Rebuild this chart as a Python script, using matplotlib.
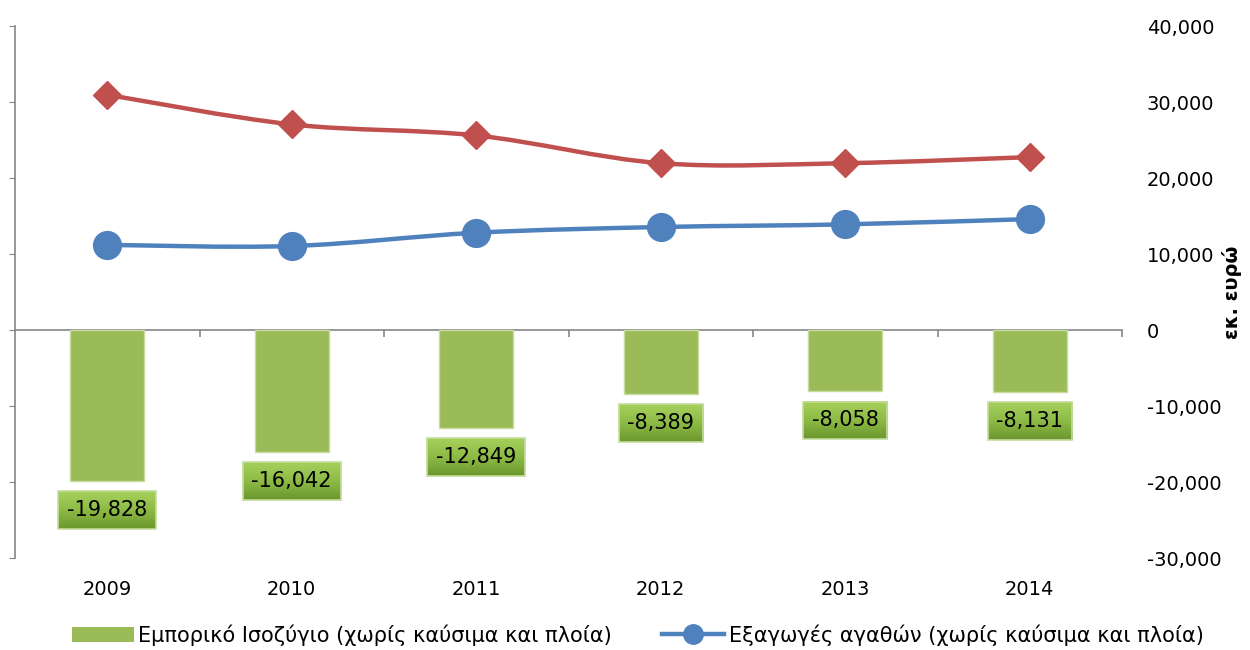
import matplotlib
matplotlib.use('Agg')
import matplotlib.pyplot as plt
import numpy as np
from matplotlib.path import Path
from matplotlib.patches import PathPatch, Patch
from matplotlib.lines import Line2D
from matplotlib.colors import LinearSegmentedColormap
from matplotlib.ticker import FuncFormatter

years = ['2009', '2010', '2011', '2012', '2013', '2014']
balance = [-19828, -16042, -12849, -8389, -8058, -8131]
exports = [11200, 11050, 12800, 13550, 13900, 14600]
imports = [30950, 27050, 25600, 21950, 21950, 22750]

balance_name = 'Εμπορικό Ισοζύγιο (χωρίς καύσιμα και πλοία)'
exports_name = 'Εξαγωγές αγαθών (χωρίς καύσιμα και πλοία)'
unit_label = 'εκ. ευρώ'

green = '#9BBB59'
red = '#C0504D'
blue = '#4F81BD'
grey = '#868686'

plt.rcParams['font.family'] = ['DejaVu Sans']
fontsize = 14


def smooth_path(x, y):
    # Catmull-Rom style curve through the points, as cubic Bezier segments
    pts = np.column_stack([x, y]).astype(float)
    n = len(pts)
    verts = [pts[0]]
    codes = [Path.MOVETO]
    for i in range(n - 1):
        p0 = pts[i - 1] if i > 0 else pts[i]
        p1 = pts[i]
        p2 = pts[i + 1]
        p3 = pts[i + 2] if i + 2 < n else pts[i + 1]
        verts += [p1 + (p2 - p0) / 6, p2 - (p3 - p1) / 6, p2]
        codes += [Path.CURVE4] * 3
    return Path(verts, codes)


fig = plt.figure(figsize=(12.5, 6.5), dpi=100)
ax = fig.add_axes([0.012, 0.1415, 0.8856, 0.8185])
x = np.arange(len(years))

ax.bar(x, balance, width=0.4, color=green, edgecolor='#C8DCA0', linewidth=1, zorder=2)

for vals, col, mk, ms in [(imports, red, 'D', 14), (exports, blue, 'o', 20)]:
    ax.add_patch(PathPatch(smooth_path(x, vals), facecolor='none', edgecolor=col,
                           lw=3.2, capstyle='round', joinstyle='round', zorder=3))
    ax.plot(x, vals, ls='none', marker=mk, ms=ms, color=col, zorder=3.5)

labels = []
for xi, v in zip(x, balance):
    t = ax.annotate(f'{v:,}', xy=(xi, v), xytext=(0, -21), textcoords='offset points',
                    ha='center', va='center', fontsize=fontsize + 1, zorder=6,
                    bbox=dict(boxstyle='square,pad=0.42', facecolor='none',
                              edgecolor='#C4DD9C', linewidth=1.2))
    labels.append(t)

ax.set_xlim(-0.5, len(years) - 0.5)
ax.set_ylim(-30000, 40000)
ax.set_yticks(np.arange(-30000, 40001, 10000))
ax.yaxis.set_major_formatter(FuncFormatter(lambda v, p: f'{v:,.0f}'))
ax.tick_params(axis='y', left=True, right=False, labelleft=False, labelright=True,
               direction='out', length=4, color=grey, labelsize=fontsize, pad=14)
ax.yaxis.set_label_position('right')
ax.set_ylabel(unit_label, fontsize=fontsize, fontweight='bold', labelpad=0)

ax.set_xticks(x)
ax.set_xticklabels(years, fontsize=fontsize)
ax.tick_params(axis='x', length=0, pad=16)

for s in ['top', 'right', 'bottom']:
    ax.spines[s].set_visible(False)
ax.spines['left'].set_color(grey)
ax.spines['left'].set_linewidth(1.2)

# zero line with category separators
ylo, yhi = ax.get_ylim()
zero_ax = ax.secondary_xaxis((0 - ylo) / (yhi - ylo))
zero_ax.set_xticks(np.arange(0.5, len(years), 1.0))
zero_ax.tick_params(direction='out', length=5, color=grey, labelbottom=False, width=1.2)
zero_ax.spines['bottom'].set_color(grey)
zero_ax.spines['bottom'].set_linewidth(1.2)

# gradient fill behind the value labels
fig.canvas.draw()
renderer = fig.canvas.get_renderer()
grad_cmap = LinearSegmentedColormap.from_list('lbl', ['#A6D05C', '#8DBB45', '#6B962E'])
grad = np.linspace(0, 1, 64).reshape(-1, 1)
inv = ax.transData.inverted()
for t in labels:
    bb = t.get_bbox_patch().get_window_extent(renderer)
    (x0, y0), (x1, y1) = inv.transform([[bb.x0, bb.y0], [bb.x1, bb.y1]])
    ax.imshow(grad, extent=(x0, x1, y0, y1), aspect='auto', cmap=grad_cmap,
              interpolation='bilinear', zorder=5)
ax.set_xlim(-0.5, len(years) - 0.5)
ax.set_ylim(-30000, 40000)

handles = [Patch(facecolor=green, edgecolor='none'),
           Line2D([], [], color=blue, lw=3.2, marker='o', ms=14)]
fig.legend(handles, [balance_name, exports_name], loc='lower center',
           bbox_to_anchor=(0.51, -0.022), ncol=2, frameon=False, fontsize=fontsize + 1,
           handlelength=3.0, handleheight=0.7, handletextpad=0.2, columnspacing=2.4)

plt.savefig('out.png', dpi=100)
